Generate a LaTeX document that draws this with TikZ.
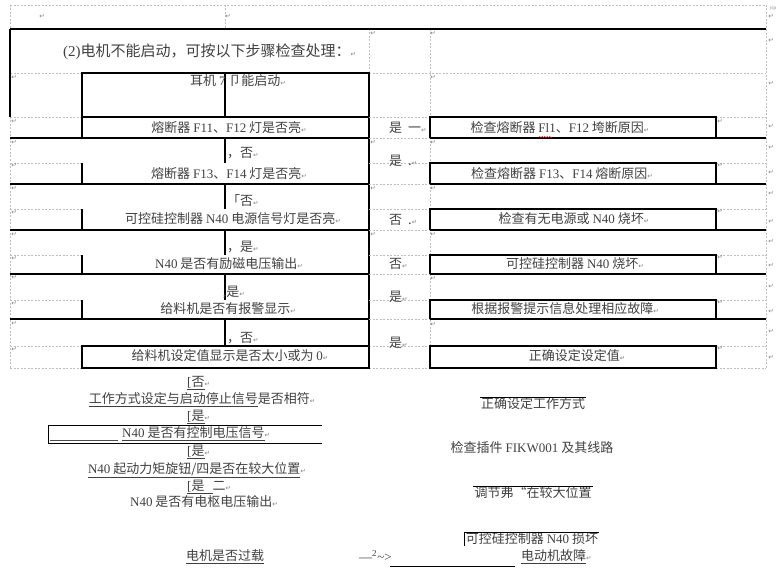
\documentclass[tikz,border=0pt]{standalone}
\usepackage{fontspec}
\setmainfont{Liberation Serif}
\newfontfamily\cjk{Noto Sans CJK SC}
\newfontfamily\symfont{DejaVu Sans}
\usetikzlibrary{decorations.pathmorphing}
\newcommand\ret{{\symfont\fontsize{6.5}{7}\selectfont\textcolor{gray}{↵}}}
\newcommand\en[1]{{\rmfamily #1}}
\tikzset{
  gridline/.style={gray!50, line width=0.6pt, dash pattern=on 2pt off 1.5pt},
  solidline/.style={line width=1.2pt},
  txt/.style={font=\cjk\fontsize{13}{15}\selectfont, text=black!75, inner sep=1pt},
  lbl/.style={txt, anchor=west},
  retmark/.style={inner sep=0pt}
}
\begin{document}
\begin{tikzpicture}[x=1pt,y=-1pt]
\useasboundingbox (0,0) rectangle (779,575);

% 表格虚线
\draw[gridline] (10,5) -- (766,5);
\draw[gridline] (10,5) -- (10,368);
\draw[gridline] (766,5) -- (766,368);
\draw[gridline] (225,5) -- (225,29);
\draw[gridline] (369,29) -- (369,73);
\draw[gridline] (430,29) -- (430,368);
\draw[gridline] (10,73) -- (82,73);
\draw[gridline] (369,73) -- (766,73);

% 粗实线
\draw[solidline] (10,29) -- (766,29);
\draw[solidline] (10,29) -- (10,117);
\draw[solidline] (82,73) rectangle (369,117);
\draw[solidline] (225,73) -- (225,117);
\draw[solidline] (369,73) -- (369,368);

% 判断框与处理框
\foreach \t/\b in {117/138,163/184,209/230,255/274,300/319}{
  \draw[gridline] (10,\t) -- (82,\t) (369,\t) -- (430,\t) (716,\t) -- (766,\t) (369,\b) -- (430,\b);
  \draw[solidline] (82,\t) -- (82,\b);
  \draw[solidline] (10,\b) -- (369,\b);
  \draw[solidline] (430,\b) -- (430,\t) -- (716,\t) -- (716,\b);
  \draw[solidline] (430,\b) -- (766,\b);
}
\draw[gridline] (10,346) -- (82,346) (369,346) -- (430,346) (716,346) -- (766,346);
\draw[gridline] (10,368) -- (82,368) (369,368) -- (430,368) (716,368) -- (766,368);
\draw[solidline] (82,346) rectangle (369,368);
\draw[solidline] (430,346) rectangle (716,368);

% 中间连线
\foreach \t/\b in {138/163,184/209,230/255,274/300,319/346}
  \draw[solidline] (225,\t) -- (225,\b);

% 标题
\node[lbl, font=\cjk\fontsize{15}{17}\selectfont] (title) at (62,52) {\en{(2)}电机不能启动，可按以下步骤检查处理：\ret};

% 左列：判断
\node[txt] (q0) at (238,81) {耳机 \en{7} 卩能启动\ret};
\node[txt] (q1) at (229,128) {熔断器 \en{F11}、\en{F12} 灯是否亮\ret};
\node[txt] (q2) at (229,174) {熔断器 \en{F13}、\en{F14} 灯是否亮\ret};
\node[txt] (q3) at (233,219) {可控硅控制器 \en{N40} 电源信号灯是否亮\ret};
\node[txt] (q4) at (229,264) {\en{N40} 是否有励磁电压输出\ret};
\node[txt] (q5) at (228,309) {给料机是否有报警显示\ret};
\node[txt] (q6) at (230,356) {给料机设定值显示是否太小或为 \en{0}\ret};

% 右列：处理
\node[txt] (a1) at (560,128) {检查熔断器 \en{Fl1}、\en{F12} 垮断原因\ret};
\node[txt] (a2) at (562,174) {检查熔断器 \en{F13}、\en{F14} 熔断原因\ret};
\node[txt] (a3) at (574,219) {检查有无电源或 \en{N40} 烧坏\ret};
\node[txt] (a4) at (575,264) {可控硅控制器 \en{N40} 烧坏\ret};
\node[txt] (a5) at (565,309) {根据报警提示信息处理相应故障\ret};
\node[txt] (a6) at (577,356) {正确设定设定值\ret};
\draw[red, decorate, decoration={snake, amplitude=0.6pt, segment length=2.5pt}] (539,137) -- (553,137);

% 是/否
\node[lbl] (y1) at (388,128) {是\hspace{6pt}一\ret};
\node[lbl] (y2) at (388,161) {是\hspace{6pt}.\ret};
\node[lbl] (y3) at (388,220) {否\hspace{6pt}.\ret};
\node[lbl] (y4) at (388,264) {否\ret};
\node[lbl] (y5) at (388,297) {是\ret};
\node[lbl] (y6) at (388,343) {是\ret};
\node[lbl] (g1) at (226,153) {，否\ret};
\node[lbl] (g2) at (226,201) {「否\ret};
\node[lbl] (g3) at (226,247) {，是\ret};
\node[lbl] (g4) at (222,292) {\en{,}是\ret};
\node[lbl] (g5) at (226,338) {，否\ret};

% 下部
\node[lbl] (b1) at (186,383) {\underline{\en{[}否}\ret};
\node[txt] (b2) at (202,400) {\underline{工作方式设定与启动停止信号}是否相符\ret};
\node[lbl] (b3) at (186,417) {\underline{\en{[}是}\ret};
\draw[line width=0.9pt] (322,425) -- (48,425) -- (48,443) -- (322,443);
\draw[black!70] (50,440) -- (118,440);
\node[lbl] (b4) at (121,434) {\underline{\en{N40} 是否有控制电压信号}\ret};
\node[lbl] (b5) at (186,452) {\underline{\en{[}是}\ret};
\node[txt] (b6) at (197,470) {\underline{\en{N40} 起动力矩旋钮/四是否在较大位置}\ret};
\node[lbl] (b7) at (186,487) {\underline{\en{[}是\hspace{8pt}}二\ret};
\node[txt] (b8) at (204,502) {\en{N40} 是否有电枢电压输出\ret};
\node[txt] (b9) at (225,557) {\underline{电机是否过载}};
\node[lbl] (arr) at (358,556) {\en{—\textsuperscript{2}\textasciitilde>}};
\draw (390,566) -- (515,566);
\node[lbl] (b10) at (520,557) {\underline{电动机故障}\ret};

\node[txt] (c1) at (533,404) {正确设定工作方式};
\draw (c1.north west) -- (c1.north east);
\node[txt] (c2) at (532,448) {检查插件 \en{FIKW001} 及其线路};
\node[txt] (c3) at (533,493) {调节弗“在较大位置};
\draw (c3.north west) -- (c3.north east);
\node[txt] (c4) at (532,539) {可控硅控制器 \en{N40} 损坏};
\draw (c4.south west) -- (c4.north west) -- (c4.north east);

% 段落标记
\node[retmark] (rt1) at (42,16) {\ret};
\node[retmark] (rt2) at (228,16) {\ret};
\node[retmark, font=\tiny, text=gray] (yip) at (773,8) {yip};
\foreach \y [count=\i] in {77,121,142,165,188,212,234,258,277,303,323,349}
  \node[retmark] (rl\i) at (14,\y) {\ret};
\foreach \y [count=\i] in {33,142,188,234}
  \node[retmark] (rm\i) at (373,\y) {\ret};
\foreach \y [count=\i] in {33,77,142,188,234,278,324}
  \node[retmark] (rc\i) at (433,\y) {\ret};
\foreach \y [count=\i] in {121,165,211,257,302,348}
  \node[retmark] (rb\i) at (720,\y) {\ret};
\foreach \y [count=\i] in {16,40,83,126,147,172,193,221,241,265,286,311,331,357}
  \node[retmark] (rr\i) at (771,\y) {\ret};
\end{tikzpicture}
\end{document}
